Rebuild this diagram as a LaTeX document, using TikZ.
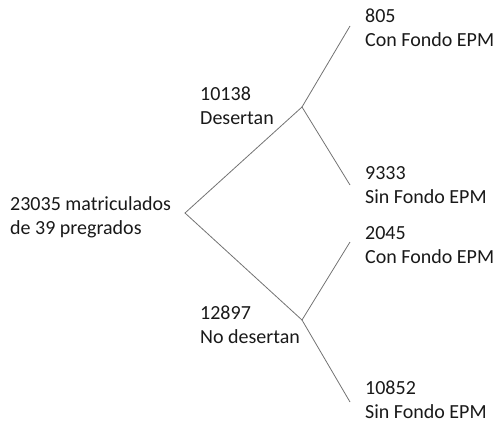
\documentclass[tikz,border=0pt]{standalone}
\usepackage{fontspec}
\setmainfont{Carlito}
\begin{document}
\begin{tikzpicture}[x=1pt,y=-1pt,
  lbl/.style={anchor=base west,inner sep=0pt,align=left,text=black!90,
    font=\fontsize{20}{24}\selectfont},
  branch/.style={draw=black!55,line width=0.8pt}]
\useasboundingbox (0,0) rectangle (494,423);
% junctions and ends
\coordinate (R) at (185,213);
\coordinate (U) at (302,107);
\coordinate (L) at (302,320);
\coordinate (UU) at (350,26);
\coordinate (UL) at (350,185);
\coordinate (LU) at (350,242);
\coordinate (LL) at (350,402);
% labels (anchor = baseline of the second line)
\node[lbl] (root) at (10,234.5) {23035 matriculados\\de 39 pregrados};
\node[lbl] (des) at (200,124.5) {10138\\Desertan};
\node[lbl] (nodes) at (200,343.5) {12897\\No desertan};
\node[lbl] (a) at (365,46.5) {805\\Con Fondo EPM};
\node[lbl] (b) at (365,203.5) {9333\\Sin Fondo EPM};
\node[lbl] (c) at (365,263.5) {2045\\Con Fondo EPM};
\node[lbl] (d) at (365,418.5) {10852\\Sin Fondo EPM};
% connectors
\draw[branch] (U) -- (R) -- (L);
\draw[branch] (UU) -- (U) -- (UL);
\draw[branch] (LU) -- (L) -- (LL);
\end{tikzpicture}
\end{document}
